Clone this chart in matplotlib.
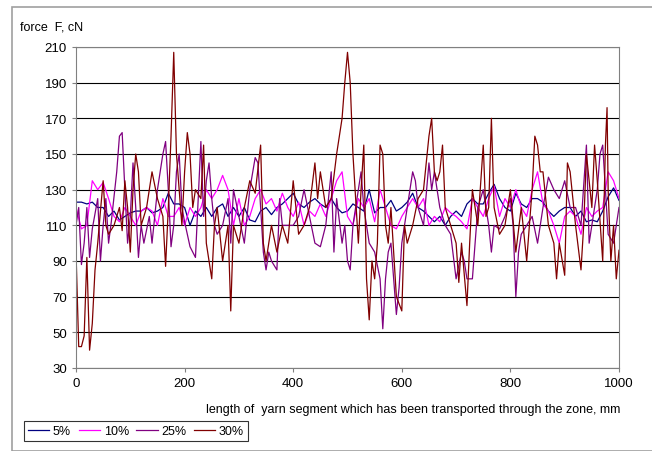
import matplotlib
matplotlib.use('Agg')
import matplotlib.pyplot as plt
from matplotlib.patches import Rectangle

plt.rcParams['font.family'] = ['Liberation Sans', 'DejaVu Sans']

# values (x in mm, force in cN)
x_5 = list(range(0, 1001, 10))
f_5 = [123, 123, 122, 123, 120, 120, 115, 118, 113, 115, 117, 118, 118, 120, 117, 118, 120, 128, 122, 122,
       120, 110, 118, 115, 120, 115, 120, 122, 115, 120, 115, 120, 113, 112, 118, 120, 116, 120, 122, 125,
       128, 122, 120, 123, 125, 122, 120, 125, 120, 117, 118, 122, 120, 118, 130, 117, 120, 120, 124, 118,
       120, 123, 128, 120, 118, 115, 112, 115, 110, 115, 118, 115, 122, 125, 122, 122, 128, 133, 125, 120,
       118, 128, 122, 120, 125, 125, 123, 118, 115, 118, 120, 120, 115, 118, 112, 113, 112, 118, 126, 131, 124]

x_10 = list(range(0, 1001, 10))
f_10 = [120, 108, 110, 135, 130, 134, 125, 115, 112, 120, 115, 110, 118, 120, 118, 110, 125, 115, 115, 120,
        110, 120, 115, 120, 130, 125, 130, 138, 130, 110, 125, 110, 115, 125, 130, 122, 125, 118, 128, 120,
        115, 123, 110, 118, 115, 122, 115, 125, 135, 140, 115, 110, 125, 120, 125, 112, 130, 120, 110, 108,
        115, 120, 125, 120, 125, 110, 115, 112, 120, 117, 115, 112, 108, 125, 120, 115, 125, 132, 115, 125,
        120, 130, 120, 115, 130, 140, 122, 118, 110, 100, 115, 118, 115, 105, 120, 115, 118, 120, 140, 135, 125]

x_25 = [0, 5, 10, 15, 20, 25, 30, 40, 45, 50, 55, 60, 65, 75, 80, 85, 90, 95, 100, 105, 110, 115, 120, 125,
        135, 140, 150, 160, 165, 170, 175, 180, 185, 190, 195, 200, 210, 220, 230, 235, 240, 245, 250, 255,
        260, 270, 280, 285, 290, 300, 310, 320, 330, 335, 340, 345, 350, 355, 360, 370, 375, 380, 390, 400,
        410, 420, 430, 440, 450, 460, 470, 475, 480, 490, 495, 500, 505, 510, 520, 525, 530, 540, 550, 560,
        565, 570, 575, 580, 590, 595, 600, 610, 620, 625, 630, 640, 650, 655, 660, 670, 680, 690, 700, 710,
        715, 720, 730, 740, 750, 760, 765, 770, 780, 790, 800, 805, 810, 815, 820, 830, 840, 850, 860, 870,
        880, 890, 900, 910, 920, 930, 940, 945, 950, 960, 965, 970, 975, 980, 990, 1000]
f_25 = [110, 120, 88, 100, 120, 92, 108, 125, 90, 110, 125, 100, 112, 140, 160, 162, 130, 100, 115, 145, 120,
        92, 110, 100, 115, 100, 130, 150, 157, 130, 98, 110, 140, 150, 120, 112, 98, 92, 157, 115, 135, 145,
        125, 110, 105, 110, 125, 100, 130, 115, 100, 130, 148, 145, 120, 95, 85, 95, 90, 85, 125, 110, 110,
        110, 115, 130, 115, 100, 98, 110, 140, 95, 125, 100, 110, 90, 85, 110, 130, 140, 120, 100, 95, 80,
        52, 80, 95, 100, 60, 75, 100, 120, 140, 135, 120, 110, 145, 130, 140, 120, 110, 105, 80, 95, 90, 80,
        80, 120, 130, 110, 95, 110, 108, 115, 125, 110, 70, 95, 105, 110, 115, 100, 120, 137, 130, 125, 135,
        120, 120, 110, 155, 100, 110, 130, 150, 155, 130, 105, 100, 120]

x_30 = [0, 5, 10, 15, 20, 25, 30, 35, 40, 45, 50, 55, 60, 70, 80, 85, 90, 95, 100, 105, 110, 115, 120, 130,
        140, 150, 160, 165, 170, 175, 180, 185, 190, 195, 200, 205, 210, 215, 220, 230, 235, 240, 250, 255,
        260, 270, 275, 280, 285, 290, 300, 310, 320, 330, 340, 345, 350, 360, 370, 380, 390, 400, 410, 420,
        430, 440, 445, 450, 460, 470, 480, 490, 495, 500, 505, 510, 520, 525, 530, 535, 540, 545, 550, 555,
        560, 565, 570, 575, 580, 590, 600, 605, 610, 620, 630, 640, 645, 650, 655, 660, 665, 670, 675, 680,
        690, 700, 705, 710, 720, 725, 730, 740, 750, 755, 760, 765, 770, 780, 790, 800, 810, 820, 830, 840,
        845, 850, 855, 860, 870, 880, 885, 890, 900, 905, 910, 920, 930, 935, 940, 950, 955, 960, 970, 975,
        978, 980, 985, 990, 995, 1000]
f_30 = [95, 42, 42, 48, 92, 40, 55, 85, 100, 118, 135, 110, 105, 110, 120, 107, 135, 120, 95, 130, 150, 140,
        110, 120, 140, 125, 115, 87, 120, 160, 207, 150, 130, 110, 140, 162, 150, 120, 130, 125, 155, 100, 80,
        110, 120, 90, 100, 110, 62, 110, 100, 120, 135, 128, 155, 100, 90, 110, 95, 110, 100, 135, 105, 110,
        120, 145, 125, 140, 120, 125, 150, 170, 190, 207, 190, 150, 100, 130, 155, 80, 57, 90, 80, 100, 155,
        150, 110, 100, 120, 70, 62, 110, 100, 110, 125, 130, 145, 160, 170, 140, 135, 140, 155, 120, 110, 100,
        78, 100, 65, 100, 130, 110, 155, 115, 120, 170, 120, 105, 110, 130, 95, 120, 90, 130, 160, 155, 140,
        140, 110, 100, 80, 100, 82, 145, 140, 110, 85, 110, 150, 120, 155, 135, 90, 155, 176, 130, 90, 110,
        80, 96]

series = [('5%', x_5, f_5, '#000080'), ('10%', x_10, f_10, '#ff00ff'),
          ('25%', x_25, f_25, '#800080'), ('30%', x_30, f_30, '#800000')]

fig = plt.figure(figsize=(6.52, 4.52), dpi=100)
fig.patches.append(Rectangle((12 / 652, 0.0), 1.0, 1 - 8 / 452, transform=fig.transFigure,
                             fill=False, edgecolor='#a0a0a0', linewidth=1.2))
ax = fig.add_axes([76 / 652, 1 - 369 / 452, 543 / 652, 321 / 452])

handles = []
for name, xs, ys, col in series:
    h, = ax.plot(xs, ys, color=col, linewidth=0.9, label=name)
    handles.append(h)

ax.set_xlim(0, 1000)
ax.set_ylim(30, 210)
ax.set_xticks(range(0, 1001, 200))
ax.set_yticks(range(30, 211, 20))
ax.yaxis.grid(True, color='black', linewidth=0.8)
ax.set_axisbelow(True)
for s in ax.spines.values():
    s.set_color('#808080')
ax.tick_params(labelsize=9.5, length=3, color='#808080')

fig.text(20 / 652, 1 - 27 / 452, 'force  F, cN', fontsize=9, va='center')
fig.text(620 / 652, 1 - 410 / 452, 'length of  yarn segment which has been transported through the zone, mm',
         fontsize=9, ha='right', va='center')

leg = fig.legend(handles=handles, loc='lower left', bbox_to_anchor=(18 / 652, 4 / 452), ncol=4,
                 fontsize=9, frameon=True, fancybox=False, handlelength=1.7, handletextpad=0.3,
                 columnspacing=0.6, borderpad=0.3)
leg.get_frame().set_edgecolor('black')
leg.get_frame().set_linewidth(0.8)

fig.savefig('out.png', dpi=100)
